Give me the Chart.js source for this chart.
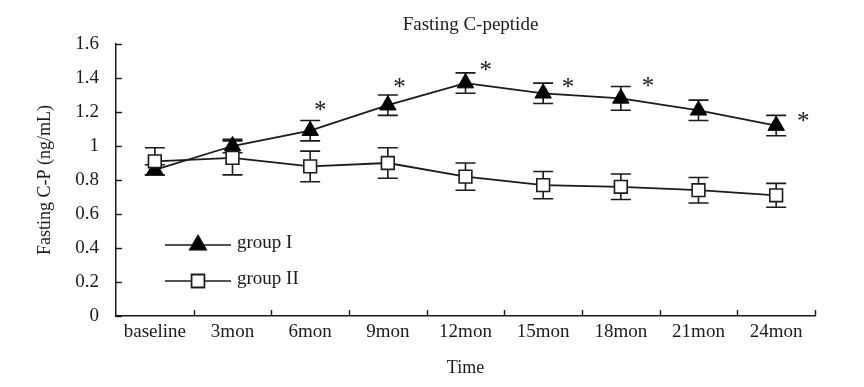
<!DOCTYPE html>
<html><head><meta charset="utf-8">
<script src="https://cdn.jsdelivr.net/npm/chart.js@4.4.0/dist/chart.umd.min.js"></script>
<style>html,body{margin:0;padding:0;background:#fff;}#wrap{width:864px;height:387px;}</style>
</head><body><div id="wrap"><canvas id="c" width="864" height="387"></canvas></div>
<script>
const categories = ['baseline','3mon','6mon','9mon','12mon','15mon','18mon','21mon','24mon'];
const groupI     = [0.86, 1.00, 1.09, 1.24, 1.37, 1.31, 1.28, 1.21, 1.12];
const groupIErr  = [0.03, 0.04, 0.06, 0.06, 0.06, 0.06, 0.07, 0.06, 0.06];
const groupII    = [0.91, 0.93, 0.88, 0.90, 0.82, 0.77, 0.76, 0.74, 0.71];
const groupIIErr = [0.08, 0.10, 0.09, 0.09, 0.08, 0.08, 0.075, 0.075, 0.07];
const sigFlags   = [false, false, true, true, true, true, true, false, true];
const sigXOffset = [0, 0, 0.13, 0.15, 0.26, 0.32, 0.35, 0, 0.35];
const sigYValue  = [0, 0, 1.235, 1.37, 1.47, 1.37, 1.376, 0, 1.17];
const yTickLabels = ['0','0.2','0.4','0.6','0.8','1','1.2','1.4','1.6'];
const seriesNames = ['group I', 'group II'];
const chartTitle = 'Fasting C-peptide';
const xTitle = 'Time';
const yTitle = 'Fasting C-P (ng/mL)';

const FONT = "'Liberation Serif','Times New Roman',serif";
const INK = '#1a1a1a';

const customPlugin = {
  id: 'custom',
  beforeDatasetsDraw(chart) {
    const ctx = chart.ctx, xs = chart.scales.x, ys = chart.scales.y;
    const cap = 10;
    ctx.save();
    ctx.strokeStyle = INK; ctx.lineWidth = 1.6;
    [[groupI, groupIErr], [groupII, groupIIErr]].forEach(([vals, errs]) => {
      vals.forEach((v, i) => {
        const x = xs.getPixelForValue(i);
        const yt = ys.getPixelForValue(v + errs[i]);
        const yb = ys.getPixelForValue(v - errs[i]);
        ctx.beginPath();
        ctx.moveTo(x, yt); ctx.lineTo(x, yb);
        ctx.moveTo(x - cap, yt); ctx.lineTo(x + cap, yt);
        ctx.moveTo(x - cap, yb); ctx.lineTo(x + cap, yb);
        ctx.stroke();
      });
    });
    ctx.restore();
  },
  afterDraw(chart) {
    const ctx = chart.ctx, xs = chart.scales.x, ys = chart.scales.y, ca = chart.chartArea;
    ctx.save();
    // inward tick marks
    ctx.strokeStyle = INK; ctx.lineWidth = 1.4;
    ys.ticks.forEach((t, i) => {
      const y = Math.round(ys.getPixelForTick(i)) + 0.5;
      ctx.beginPath(); ctx.moveTo(ca.left, y); ctx.lineTo(ca.left + 6, y); ctx.stroke();
    });
    const half = (xs.getPixelForValue(1) - xs.getPixelForValue(0)) / 2;
    for (let i = 0; i < categories.length; i++) {
      const x = Math.round(xs.getPixelForValue(i) + half) + 0.5;
      ctx.beginPath(); ctx.moveTo(x, ca.bottom); ctx.lineTo(x, ca.bottom - 6); ctx.stroke();
    }
    // title
    ctx.fillStyle = INK;
    ctx.font = "19px " + FONT;
    ctx.textAlign = 'center'; ctx.textBaseline = 'middle';
    ctx.fillText(chartTitle, (ca.left + ca.right) / 2 + 5, 25);
    // asterisks
    ctx.font = "25px " + FONT;
    ctx.textBaseline = 'alphabetic';
    sigFlags.forEach((f, i) => {
      if (!f) return;
      const x = xs.getPixelForValue(i + sigXOffset[i]);
      const y = ys.getPixelForValue(sigYValue[i]);
      ctx.fillText('*', x, y + 12);
    });
    // legend
    const rows = [245, 281];
    ctx.font = "19px " + FONT;
    ctx.textAlign = 'left';
    [0, 1].forEach((k) => {
      const ds = chart.data.datasets[k];
      const y = rows[k];
      ctx.strokeStyle = INK; ctx.lineWidth = 1.6;
      ctx.beginPath(); ctx.moveTo(165, y); ctx.lineTo(231, y); ctx.stroke();
      Chart.helpers.drawPoint(ctx, {
        pointStyle: ds.pointStyle, radius: ds.pointRadius, rotation: 0,
        borderWidth: ds.pointBorderWidth
      }, 198, y);
      ctx.fillStyle = ds.pointBackgroundColor; ctx.strokeStyle = INK; ctx.lineWidth = ds.pointBorderWidth;
      ctx.fill(); ctx.stroke();
      ctx.fillStyle = INK;
      ctx.textBaseline = 'middle';
      ctx.fillText(seriesNames[k], 237, y - 2);
    });
    ctx.restore();
  }
};

new Chart(document.getElementById('c'), {
  type: 'line',
  data: {
    labels: categories,
    datasets: [
      {
        label: seriesNames[0], data: groupI, order: 1,
        borderColor: INK, borderWidth: 1.8,
        pointStyle: 'triangle', pointRadius: 9.5, pointBackgroundColor: '#000',
        pointBorderColor: '#000', pointBorderWidth: 1, tension: 0
      },
      {
        label: seriesNames[1], data: groupII, order: 0,
        borderColor: INK, borderWidth: 1.8,
        pointStyle: 'rect', pointRadius: 9, pointBackgroundColor: '#fff',
        pointBorderColor: INK, pointBorderWidth: 1.6, tension: 0
      }
    ]
  },
  options: {
    responsive: false, animation: false, devicePixelRatio: 1,
    layout: { padding: { top: 44, right: 49, left: 0, bottom: 0 } },
    plugins: { legend: { display: false }, tooltip: { enabled: false }, title: { display: false } },
    scales: {
      x: {
        offset: true,
        grid: { display: false, drawTicks: false },
        border: { display: true, color: INK, width: 1.5 },
        ticks: { color: INK, font: { family: FONT, size: 19 }, padding: 5, maxRotation: 0, autoSkip: false },
        title: { display: true, text: xTitle, color: INK, font: { family: FONT, size: 18 }, padding: { bottom: 8, top: 0 } },
        afterFit(s) { s.height = 71; }
      },
      y: {
        min: 0, max: 1.6,
        grid: { display: false, drawTicks: false },
        border: { display: true, color: INK, width: 1.5 },
        ticks: { stepSize: 0.2, color: INK, font: { family: FONT, size: 19 }, padding: 17,
          callback: (v, i) => yTickLabels[i] },
        title: { display: true, text: yTitle, color: INK, font: { family: FONT, size: 18 }, padding: { top: 34, bottom: 0 } },
        afterFit(s) { s.width = 116; }
      }
    }
  },
  plugins: [customPlugin]
});
</script>
</body></html>
